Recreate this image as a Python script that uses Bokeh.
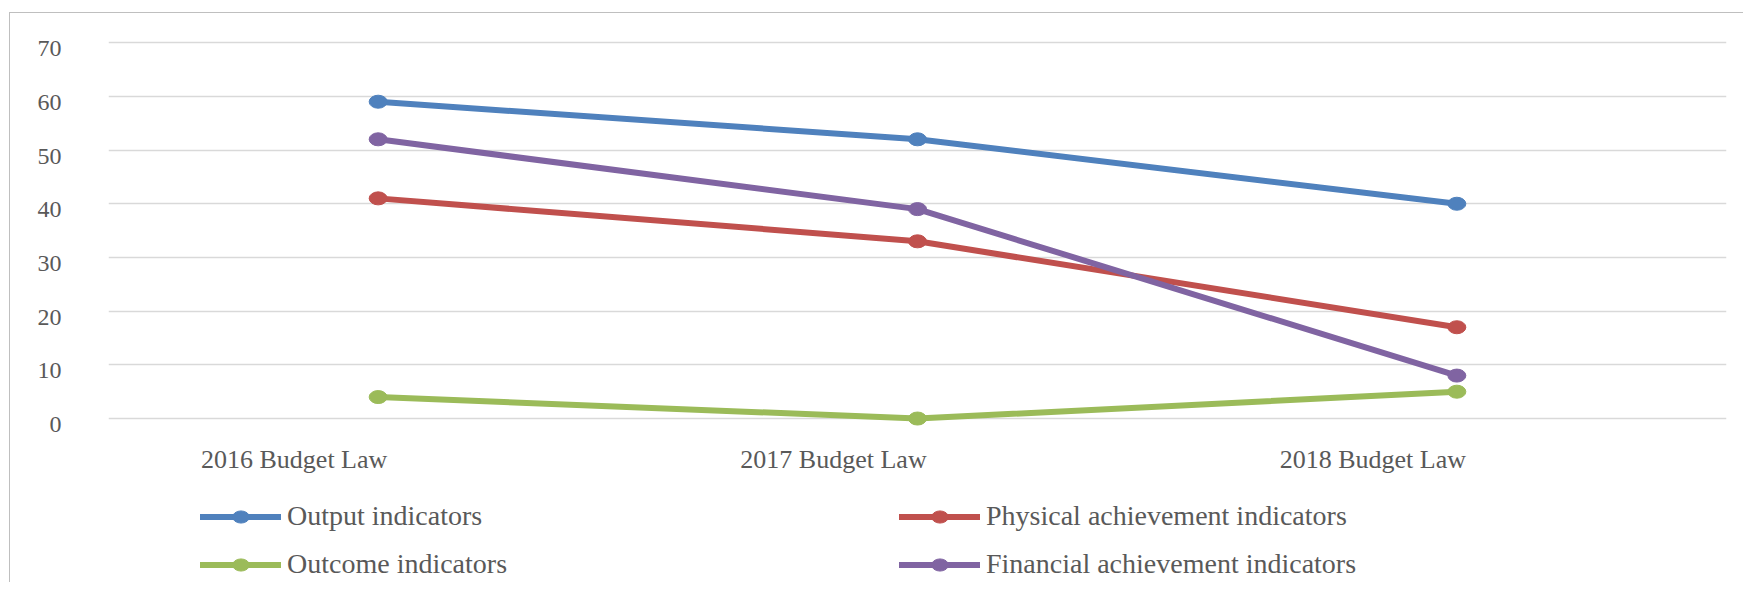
from bokeh.plotting import figure
from bokeh.models import (Range1d, LinearAxis, Grid, FixedTicker, Legend, LegendItem)
from bokeh.core.properties import value
from bokeh.embed import file_html
from bokeh.resources import INLINE

# ---- data ----
cats = ["2016 Budget Law", "2017 Budget Law", "2018 Budget Law"]
output_ind = [59, 52, 40]
physical_ind = [41, 33, 17]
outcome_ind = [4, 0, 5]
financial_ind = [52, 39, 8]
y_ticks = [0, 10, 20, 30, 40, 50, 60, 70]
series_names = ["Output indicators", "Physical achievement indicators",
                "Outcome indicators", "Financial achievement indicators"]
series_vals = [output_ind, physical_ind, outcome_ind, financial_ind]
series_colors = ["#4f81bd", "#c0504d", "#9bbb59", "#8064a2"]

FONT = "Liberation Serif"
TXT = "#595959"

# category slots: each category occupies one unit, point in the middle of its slot
xpos = [i + 0.5 for i in range(len(cats))]

W, H = 1734, 570
Y0, Y1 = -30.72, 70.4   # frame also hosts the category labels and the legend below 0
p = figure(width=W, height=H, x_range=Range1d(0, len(cats)),
           y_range=Range1d(Y0, Y1), x_axis_location=None, y_axis_location=None,
           output_backend="svg", toolbar_location=None,
           min_border_left=98, min_border_top=27, min_border_right=18,
           min_border_bottom=0)
p.outline_line_color = None
p.background_fill_color = "white"
p.border_fill_color = "white"
p.grid.visible = False
p.margin = (12, 0, 0, 9)
p.styles = {"border-top": "1px solid #bfbfbf", "border-left": "1px solid #bfbfbf"}

# horizontal gridlines
p.add_layout(Grid(dimension=1, ticker=FixedTicker(ticks=y_ticks),
                  grid_line_color="#d9d9d9", grid_line_width=1.3))

# value axis (range shifted slightly so labels sit a bit below their gridlines, as in Excel)
shift_y = 1.117
p.extra_y_ranges = {"ylab": Range1d(Y0 + shift_y, Y1 + shift_y)}
yax = LinearAxis(y_range_name="ylab", ticker=FixedTicker(ticks=y_ticks))
yax.axis_line_color = None
yax.major_tick_line_color = None
yax.minor_tick_line_color = None
yax.major_tick_out = 0
yax.major_tick_in = 0
yax.major_label_standoff = 47
yax.major_label_text_font = FONT
yax.major_label_text_font_size = "24px"
yax.major_label_text_color = TXT
p.add_layout(yax, "left")

# category labels, under the value-0 line, offset left of the category centres
p.text(x=xpos, y=[0] * len(cats), text=cats, x_offset=-84, y_offset=41,
       text_align="center", text_baseline="alphabetic",
       text_font=value(FONT), text_font_size="26px", text_color=TXT)

items = []
for name, vals, col in zip(series_names, series_vals, series_colors):
    lr = p.line(x=xpos, y=vals, line_color=col, line_width=6,
                line_join="round", line_cap="round")
    er = p.ellipse(x=xpos, y=vals, width=18, height=13, width_units="screen",
                   height_units="screen", fill_color=col, line_color=col)
    items.append(LegendItem(label=name, renderers=[lr, er]))

def make_legend(its, loc):
    lg = Legend(items=its, location=loc, orientation="vertical")
    lg.glyph_width = 81
    lg.glyph_height = 21
    lg.label_height = 32
    lg.label_standoff = 6
    lg.spacing = 16
    lg.padding = 0
    lg.margin = 0
    lg.border_line_color = None
    lg.background_fill_alpha = 0
    lg.label_text_font = FONT
    lg.label_text_font_size = "28px"
    lg.label_text_color = TXT
    return lg

p.add_layout(make_legend([items[0], items[2]], (92, 3)), "center")
p.add_layout(make_legend([items[1], items[3]], (791, 3)), "center")

open("out.html", "w").write(file_html(p, INLINE))
